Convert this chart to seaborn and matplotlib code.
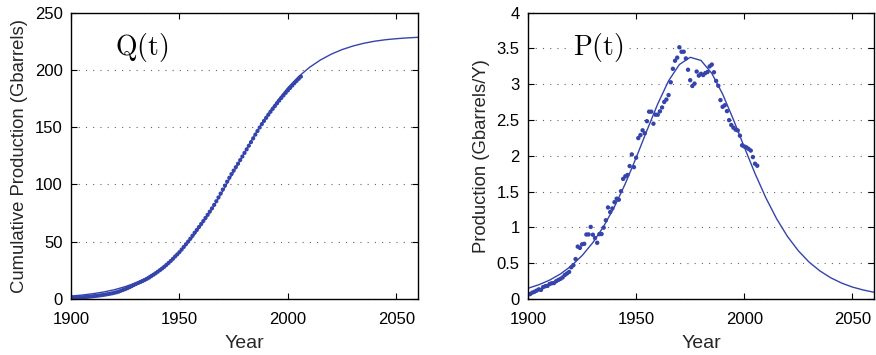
import numpy as np
import pandas as pd
import matplotlib
matplotlib.use("Agg")
import matplotlib.pyplot as plt
import seaborn as sns

# ---------------- data ----------------
years = list(range(1900, 2007))
production = [
    0.064, 0.069, 0.089, 0.101, 0.117, 0.135, 0.127, 0.166, 0.179, 0.183,
    0.210, 0.220, 0.223, 0.248, 0.266, 0.281, 0.301, 0.335, 0.356, 0.378,
    0.443, 0.472, 0.558, 0.732, 0.714, 0.764, 0.771, 0.901, 0.902, 1.007,
    0.898, 0.851, 0.785, 0.906, 0.908, 0.997, 1.100, 1.279, 1.214, 1.265,
    1.353, 1.402, 1.387, 1.506, 1.678, 1.714, 1.733, 1.857, 2.020, 1.842,
    1.974, 2.248, 2.290, 2.357, 2.315, 2.484, 2.617, 2.617, 2.449, 2.575,
    2.575, 2.622, 2.676, 2.753, 2.787, 2.849, 3.028, 3.216, 3.329, 3.372,
    3.517, 3.454, 3.455, 3.361, 3.203, 3.057, 2.976, 3.009, 3.178, 3.121,
    3.146, 3.129, 3.157, 3.171, 3.250, 3.275, 3.168, 3.047, 2.979, 2.779,
    2.685, 2.707, 2.625, 2.499, 2.431, 2.394, 2.366, 2.355, 2.282, 2.147,
    2.131, 2.118, 2.097, 2.074, 1.983, 1.890, 1.862,
]
cumulative = [
    1.00, 1.07, 1.16, 1.26, 1.37, 1.51, 1.63, 1.80, 1.98, 2.16,
    2.37, 2.59, 2.82, 3.06, 3.33, 3.61, 3.91, 4.25, 4.60, 4.98,
    5.42, 5.90, 6.45, 7.19, 7.90, 8.66, 9.43, 10.33, 11.24, 12.24,
    13.14, 13.99, 14.78, 15.68, 16.59, 17.59, 18.69, 19.97, 21.18, 22.45,
    23.80, 25.20, 26.59, 28.10, 29.77, 31.49, 33.22, 35.08, 37.10, 38.94,
    40.91, 43.16, 45.45, 47.81, 50.12, 52.61, 55.22, 57.84, 60.29, 62.86,
    65.44, 68.06, 70.74, 73.49, 76.28, 79.13, 82.15, 85.37, 88.70, 92.07,
    95.59, 99.04, 102.50, 105.86, 109.06, 112.12, 115.10, 118.10, 121.28, 124.40,
    127.55, 130.68, 133.83, 137.00, 140.25, 143.53, 146.70, 149.74, 152.72, 155.50,
    158.19, 160.89, 163.52, 166.02, 168.45, 170.84, 173.21, 175.56, 177.84, 179.99,
    182.12, 184.24, 186.34, 188.41, 190.39, 192.28, 194.15,
]

fit_years = list(range(1900, 2061, 5))
fit_Q = [2.6, 3.4, 4.6, 6.1, 8.1, 10.8, 14.2, 18.7, 24.5, 31.7,
         40.6, 51.4, 64.2, 78.6, 94.4, 111.1, 127.9, 144.2, 159.2, 172.7,
         184.5, 194.3, 202.3, 208.7, 213.8, 217.8, 220.9, 223.3, 225.1, 226.4,
         227.3, 228.0, 228.5]
fit_P = [0.150, 0.199, 0.264, 0.350, 0.462, 0.606, 0.788, 1.015, 1.290, 1.612,
         1.973, 2.355, 2.726, 3.048, 3.276, 3.377, 3.333, 3.152, 2.863, 2.506,
         2.124, 1.752, 1.413, 1.119, 0.873, 0.674, 0.515, 0.392, 0.296, 0.223,
         0.167, 0.126, 0.094]

x_ticks = [1900, 1950, 2000, 2050]
q_ticks = [0, 50, 100, 150, 200, 250]
p_ticks = [0, 0.5, 1, 1.5, 2, 2.5, 3, 3.5, 4]
p_tick_labels = ["0", "0.5", "1", "1.5", "2", "2.5", "3", "3.5", "4"]

data_df = pd.DataFrame({"Year": years, "Q": cumulative, "P": production})
fit_df = pd.DataFrame({"Year": fit_years, "Q": fit_Q, "P": fit_P})

# ---------------- style ----------------
sns.set_theme(style="white")
plt.rcParams["font.family"] = ["Liberation Sans", "DejaVu Sans"]
plt.rcParams["mathtext.fontset"] = "cm"

blue = "#3544ab"

fig = plt.figure(figsize=(8.76, 3.55), dpi=100)
axL = fig.add_axes([71 / 876, 56 / 355, 347 / 876, 286.3 / 355])
axR = fig.add_axes([528 / 876, 56 / 355, 346 / 876, 286.3 / 355])


def style_axis(ax):
    for s in ax.spines.values():
        s.set_visible(True)
        s.set_color("black")
        s.set_linewidth(1.0)
    ax.tick_params(axis="both", which="major", direction="in", length=4,
                   width=0.8, top=True, right=True, bottom=True, left=True,
                   labelsize=12, colors="black")
    ax.tick_params(axis="x", pad=9)
    ax.tick_params(axis="y", pad=6)
    ax.yaxis.grid(True, linestyle=(0, (1, 5.5)), color="#666666", linewidth=0.8)
    ax.xaxis.grid(False)
    ax.set_axisbelow(True)


# Left: cumulative
sns.lineplot(data=fit_df, x="Year", y="Q", ax=axL, color=blue, linewidth=1.0)
sns.scatterplot(data=data_df, x="Year", y="Q", ax=axL, color=blue, s=9,
                linewidth=0, edgecolor="none")
axL.set_xlim(1900, 2060)
axL.set_ylim(0, 250)
axL.set_xticks(x_ticks)
axL.set_yticks(q_ticks)
axL.set_xlabel("Year", fontsize=14, labelpad=6)
axL.set_ylabel("Cumulative Production (Gbarrels)", fontsize=13.3, labelpad=5)
style_axis(axL)
axL.text(1920.3, 220, r"$\mathrm{Q(t)}$", fontsize=20, color="black",
         va="center", ha="left")

# Right: production
sns.lineplot(data=fit_df, x="Year", y="P", ax=axR, color=blue, linewidth=1.0)
sns.scatterplot(data=data_df, x="Year", y="P", ax=axR, color=blue, s=10,
                linewidth=0, edgecolor="none")
axR.set_xlim(1900, 2060)
axR.set_ylim(0, 4)
axR.set_xticks(x_ticks)
axR.set_yticks(p_ticks)
axR.set_yticklabels(p_tick_labels)
axR.set_xlabel("Year", fontsize=14, labelpad=6)
axR.set_ylabel("Production (Gbarrels/Y)", fontsize=13.3, labelpad=5)
style_axis(axR)
axR.text(1921, 3.52, r"$\mathrm{P(t)}$", fontsize=20, color="black",
         va="center", ha="left",
         bbox=dict(facecolor="white", edgecolor="none", pad=1))

fig.savefig("out.png", dpi=100)
